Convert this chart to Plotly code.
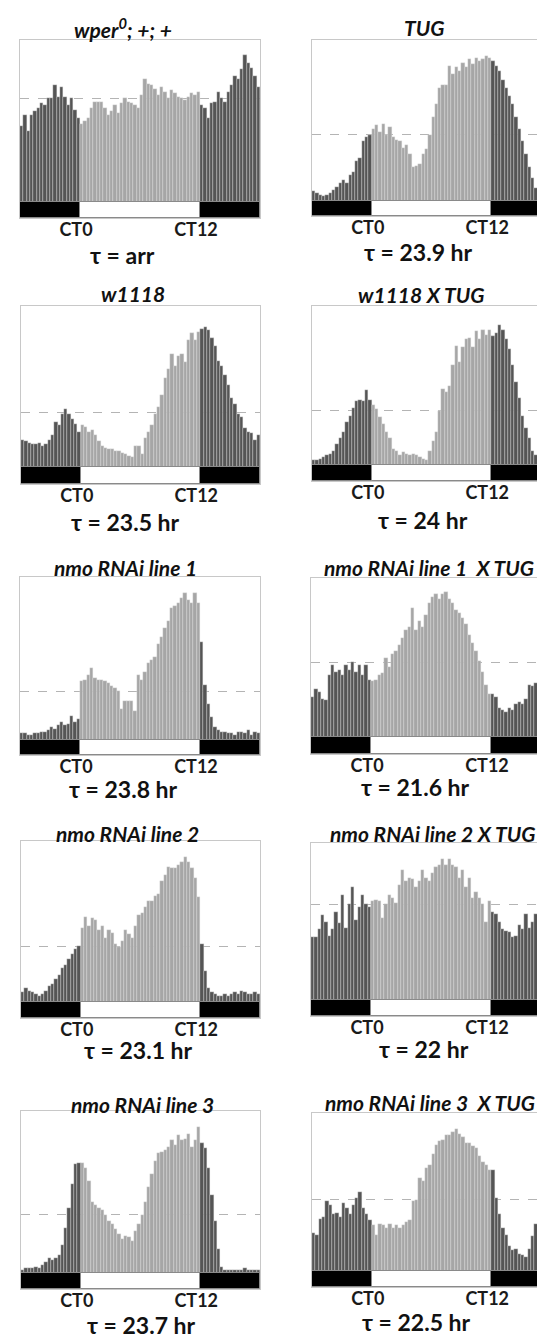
import plotly.graph_objects as go

# ---------------- data ----------------
TITLES = ["wper<sup>0</sup>; +; +", "TUG", "w1118", "w1118 X TUG",
          "nmo RNAi line 1", "nmo RNAi line 1  X TUG",
          "nmo RNAi line 2", "nmo RNAi line 2 X TUG",
          "nmo RNAi line 3", "nmo RNAi line 3  X TUG"]
TAU = ["arr", "23.9 hr", "23.5 hr", "24 hr", "23.8 hr", "21.6 hr",
       "23.1 hr", "22 hr", "23.7 hr", "22.5 hr"]
CT_TICKS = [0, 12]
CT_LABELS = ["CT0", "CT12"]
LD_START = [-6, 0, 12]
LD_END = [0, 12, 18]
LD_DARK = [True, False, True]
REF_LEVEL = [63.7, 41.6, 33.6, 34.0, 30.0, 47.0, 34.6, 61.0, 36.0, 45.0]

ACT_WPER0 = [47, 54, 44, 54, 56, 58, 61, 60, 64, 64, 72, 65, 71, 65, 60, 64, 57, 52,
             48, 50, 52, 58, 62, 62, 62, 58, 54, 56, 60, 55, 61, 64, 62, 61, 60, 58, 66, 76,
             73, 72, 70, 66, 71, 68, 64, 69, 67, 65, 64, 63, 65, 67, 66, 68,
             60, 58, 52, 61, 62, 68, 64, 62, 68, 72, 78, 76, 82, 91, 86, 83, 78, 71]
ACT_TUG = [6, 5, 4, 3, 4, 5, 7, 9, 11, 13, 11, 16, 18, 25, 27, 37, 40, 41,
           45, 47, 43, 48, 41, 46, 40, 38, 37, 33, 35, 29, 21, 22, 23, 29, 32, 41,
           52, 60, 70, 72, 72, 84, 79, 83, 81, 86, 83, 88, 85, 89, 87, 88, 90, 89,
           87, 84, 81, 75, 70, 65, 60, 52, 45, 37, 29, 21, 14, 8, 6, 5, 4, 4]
ACT_W1118 = [17, 16, 15, 14, 14, 15, 13, 14, 17, 20, 28, 26, 33, 36, 33, 30, 27, 22,
             26, 25, 22, 23, 20, 16, 13, 12, 11, 11, 10, 10, 9, 8, 7, 6, 13, 13, 8, 18,
             22, 26, 33, 37, 45, 55, 61, 70, 63, 69, 70, 65, 79, 83, 79, 84,
             86, 87, 85, 80, 75, 66, 63, 57, 51, 43, 39, 33, 31, 24, 22, 21, 17, 20]
ACT_W1118_TUG = [3, 3, 4, 5, 6, 7, 9, 13, 17, 21, 27, 31, 36, 40, 41, 40, 47, 41,
                 38, 35, 30, 26, 21, 17, 10, 9, 6, 8, 7, 6, 7, 6, 5, 4, 3, 9, 15, 21,
                 34, 48, 46, 50, 63, 75, 65, 74, 79, 80, 74, 84, 79, 85, 82, 85,
                 81, 83, 88, 85, 79, 73, 63, 52, 42, 31, 23, 17, 9, 6, 4, 5, 5, 2]
ACT_LINE1 = [4, 4, 3, 3, 4, 4, 5, 5, 6, 8, 7, 9, 11, 9, 10, 15, 11, 13,
             36, 37, 40, 44, 38, 37, 37, 36, 35, 33, 32, 30, 19, 24, 24, 24, 18, 40, 37, 42,
             47, 49, 51, 59, 63, 69, 73, 81, 82, 84, 87, 90, 86, 84, 90, 84,
             60, 34, 22, 14, 8, 6, 5, 5, 4, 4, 3, 5, 5, 4, 6, 3, 5, 4]
ACT_LINE1_TUG = [25, 30, 28, 24, 23, 39, 45, 41, 42, 39, 45, 42, 47, 41, 45, 39, 45, 36,
                 35, 36, 39, 40, 50, 44, 52, 54, 58, 62, 67, 69, 81, 67, 73, 69, 77, 84, 88, 90,
                 87, 90, 91, 87, 84, 80, 78, 75, 71, 64, 59, 54, 48, 41, 33, 27,
                 27, 25, 18, 17, 16, 18, 17, 21, 22, 21, 24, 33, 32, 34, 33, 35, 29, 31]
ACT_LINE2 = [6, 9, 7, 6, 5, 4, 5, 7, 10, 11, 14, 17, 21, 23, 27, 30, 33, 35,
             46, 53, 47, 52, 51, 45, 47, 40, 45, 43, 36, 34, 38, 45, 42, 40, 47, 54, 55, 59,
             63, 63, 66, 67, 75, 79, 84, 83, 83, 85, 87, 90, 87, 83, 77, 65,
             36, 19, 9, 6, 5, 4, 4, 5, 4, 5, 6, 5, 7, 6, 5, 5, 6, 5]
ACT_LINE2_TUG = [40, 40, 45, 54, 50, 41, 45, 56, 49, 67, 46, 61, 72, 51, 59, 67, 61, 59,
                 63, 64, 63, 52, 61, 67, 65, 62, 73, 83, 76, 78, 77, 72, 76, 83, 78, 76, 81, 85,
                 86, 90, 86, 90, 86, 85, 78, 83, 72, 78, 65, 69, 65, 61, 50, 63,
                 56, 55, 50, 45, 44, 43, 40, 41, 48, 45, 55, 46, 50, 55, 49, 46, 54, 55]
ACT_LINE3 = [2, 3, 3, 3, 4, 3, 5, 7, 9, 8, 9, 11, 17, 28, 40, 55, 67, 68,
             68, 65, 57, 44, 42, 40, 39, 36, 32, 30, 27, 24, 21, 23, 22, 20, 26, 30, 36, 44,
             53, 61, 69, 74, 75, 76, 78, 82, 79, 85, 82, 83, 86, 78, 82, 90,
             80, 77, 65, 48, 32, 15, 4, 2, 2, 2, 2, 2, 2, 3, 2, 2, 2, 2]
ACT_LINE3_TUG = [24, 23, 33, 34, 44, 42, 36, 37, 34, 43, 40, 36, 42, 46, 50, 40, 36, 32,
                 29, 23, 30, 29, 27, 30, 27, 29, 27, 29, 31, 32, 44, 45, 59, 57, 65, 67, 74, 80,
                 82, 83, 86, 86, 88, 90, 87, 85, 81, 81, 79, 78, 73, 69, 67, 64,
                 64, 46, 36, 27, 23, 16, 13, 14, 11, 10, 9, 14, 22, 30, 21, 25, 29, 32]

SERIES = [ACT_WPER0, ACT_TUG, ACT_W1118, ACT_W1118_TUG, ACT_LINE1, ACT_LINE1_TUG,
          ACT_LINE2, ACT_LINE2_TUG, ACT_LINE3, ACT_LINE3_TUG]

# ---------------- layout geometry (pixels) ----------------
W, H = 545, 1337
# x0, x1, top, baseline, bottom, title(cx,cy), tau(cx,cy)
GEOM = [
    (12, 252, 32, 194, 210, 115, 20, 114, 247),
    (304, 543, 32, 193, 208, 416, 20, 410, 244),
    (13, 252, 298, 459, 476, 125, 286, 117, 514),
    (304, 543, 298, 457, 473, 413, 287, 415, 512),
    (12, 252, 569, 732, 747, 117, 559, 115, 781),
    (303, 543, 570, 729, 746, 421, 559, 407, 779),
    (13, 252, 833, 994, 1010, 119, 825, 130, 1042),
    (303, 543, 835, 992, 1008, 424, 825, 416, 1041),
    (13, 252, 1103, 1265, 1281, 134, 1096, 133, 1317),
    (304, 543, 1105, 1263, 1279, 422, 1094, 408, 1314),
]

DARK = "#555555"
LIGHT = "#a6a6a6"
BORDER = "#c8c8c8"
FONT = "Lato"

fig = go.Figure()
layout = {}
annotations = []

for k, (vals, g) in enumerate(zip(SERIES, GEOM)):
    x0, x1, top, base, bot, tcx, tcy, ucx, ucy = g
    n = len(vals)
    span = LD_END[-1] - LD_START[0]
    binw = span / n
    xs = [LD_START[0] + (i + 0.5) * binw for i in range(n)]
    cols = []
    for xc in xs:
        dark = False
        for s, e, d in zip(LD_START, LD_END, LD_DARK):
            if s <= xc < e:
                dark = d
        cols.append(DARK if dark else LIGHT)
    sfx = "" if k == 0 else str(k + 1)
    ld = 100.0 * (bot - base) / (base - top)
    fig.add_trace(go.Bar(
        x=xs, y=vals, width=binw, marker=dict(color=cols, line=dict(color="#e6e6e6", width=0.35)),
        xaxis="x" + sfx, yaxis="y" + sfx, showlegend=False, hoverinfo="skip"))
    fig.add_trace(go.Bar(
        x=[(s + e) / 2 for s, e in zip(LD_START, LD_END)],
        y=[ld] * len(LD_START), base=[-ld] * len(LD_START),
        width=[e - s for s, e in zip(LD_START, LD_END)],
        marker=dict(color=["black" if d else "white" for d in LD_DARK],
                    line=dict(color="#8a8a8a", width=1)),
        xaxis="x" + sfx, yaxis="y" + sfx, showlegend=False, hoverinfo="skip"))
    layout["xaxis" + sfx] = dict(
        domain=[x0 / W, x1 / W], range=[LD_START[0], LD_END[-1]], anchor="y" + sfx,
        tickvals=CT_TICKS, ticktext=CT_LABELS, ticks="", showgrid=False, zeroline=False,
        showline=True, mirror=True, linecolor=BORDER, linewidth=1,
        tickfont=dict(family=FONT, size=18, color="#1a1a1a", weight="bold"),
        ticklabelstandoff=-5, ticklabelshift=-4)
    layout["yaxis" + sfx] = dict(
        domain=[1 - bot / H, 1 - top / H], range=[-ld, 100], anchor="x" + sfx,
        tickvals=[REF_LEVEL[k]], showticklabels=False, ticks="",
        showgrid=True, gridcolor="#b4b4b4", griddash="dash", gridwidth=0.8,
        zeroline=False, showline=True, mirror=True, linecolor=BORDER, linewidth=1)
    annotations.append(dict(
        text=TITLES[k], x=tcx / W, y=1 - tcy / H, xref="paper", yref="paper",
        xanchor="center", yanchor="middle", showarrow=False,
        font=dict(family=FONT, size=21, color="#111111", weight="bold", style="italic")))
    annotations.append(dict(
        text="\u03c4 = " + TAU[k], x=ucx / W, y=1 - ucy / H, xref="paper", yref="paper",
        xanchor="center", yanchor="middle", showarrow=False,
        font=dict(family=FONT, size=23, color="#111111", weight="bold")))

fig.update_layout(
    width=W, height=H, margin=dict(l=0, r=0, t=0, b=0),
    paper_bgcolor="white", plot_bgcolor="white", barmode="overlay", bargap=0,
    annotations=annotations, **layout)

fig.write_html("out.html")
